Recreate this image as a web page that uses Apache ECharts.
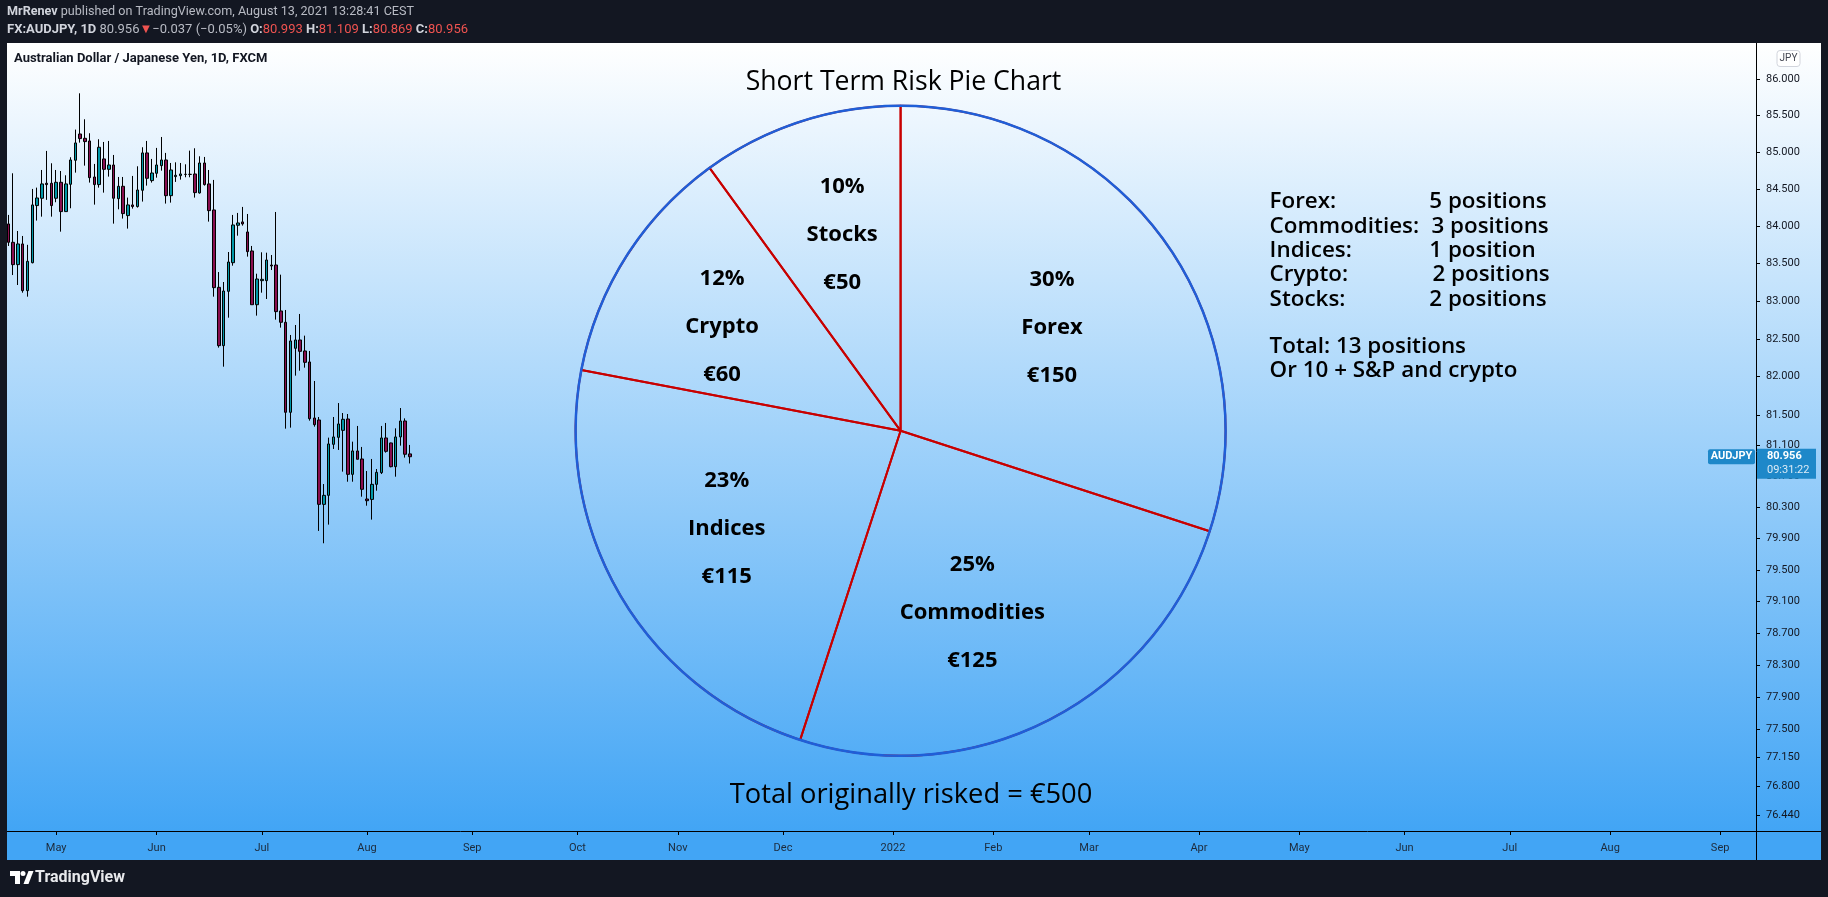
<!DOCTYPE html>
<html><head><meta charset="utf-8">
<script src="https://cdn.jsdelivr.net/npm/echarts@6/dist/echarts.min.js"></script>
<style>
html,body{margin:0;padding:0;background:#131722;overflow:hidden;}
#pane{position:absolute;left:7px;top:43px;width:1814px;height:817px;
  background:linear-gradient(to bottom,#ffffff 0px,#42a5f5 788px,#42a5f5 817px);}
#c{position:absolute;left:0;top:0;width:1828px;height:897px;}
</style>
</head><body><div id="pane"></div><div id="c"></div>
<script>
// ---- data ----
const startDate = [2021, 3, 19];       // first bar: 2021-04-19 (weekday bars)
const categoryCount = 366;            // bars incl. future whitespace up to Sep 2022
const candleOpen = [84.031,83.784,83.485,83.762,83.138,83.511,84.278,84.377,84.580,84.580,
 84.377,84.593,84.197,84.566,84.892,85.250,85.191,85.155,84.665,84.562,
 84.910,84.769,84.828,84.372,84.539,84.143,84.287,84.265,84.485,84.992,
 84.616,84.715,84.819,84.896,84.412,84.670,84.683,84.701,84.700,84.706,
 84.449,84.855,84.571,84.219,83.182,82.409,83.129,83.511,84.013,84.058,
 83.923,83.668,82.951,83.271,83.271,83.480,83.480,82.868,82.718,81.534,
 82.374,82.484,82.339,82.194,81.460,81.434,80.341,80.457,81.117,81.208,
 81.299,81.447,80.728,81.031,80.927,80.410,80.405,80.599,80.750,81.200,
 81.135,80.827,81.213,81.421,80.993];
const candleHigh = [84.152,84.715,83.936,83.869,83.750,84.503,84.521,84.760,85.019,84.851,
 84.760,84.746,84.688,84.933,85.310,85.807,85.451,85.260,84.842,85.178,
 85.141,85.155,84.964,84.665,84.665,84.386,84.679,84.810,85.069,85.155,
 84.910,85.060,85.209,84.992,84.855,84.864,84.855,84.837,85.023,85.055,
 84.946,84.937,84.760,84.625,83.386,83.253,83.654,84.152,84.179,84.260,
 84.165,83.735,83.364,83.650,83.645,83.614,84.192,83.351,82.881,82.550,
 82.682,82.828,82.541,82.339,81.944,81.473,80.603,81.204,81.473,81.655,
 81.525,81.512,81.152,81.356,81.083,80.771,80.927,80.797,81.356,81.395,
 81.139,81.325,81.590,81.455,81.109];
const candleLow = [83.735,83.346,83.213,83.111,83.058,83.502,84.076,84.129,84.355,84.129,
 84.323,83.927,84.197,84.242,84.724,85.132,84.819,84.589,84.291,84.521,
 84.453,84.670,84.035,84.228,84.103,83.968,84.237,84.251,84.332,84.548,
 84.589,84.656,84.751,84.305,84.318,84.598,84.629,84.661,84.661,84.386,
 84.440,84.548,84.062,83.058,82.383,82.132,82.779,83.471,83.873,84.008,
 83.592,82.951,82.806,83.111,83.027,83.413,82.753,82.647,81.321,81.334,
 82.014,82.079,82.119,81.425,81.347,80.000,79.842,80.081,81.057,81.044,
 80.763,80.633,80.633,80.923,80.440,80.324,80.145,80.517,80.732,81.009,
 80.819,80.698,81.100,80.945,80.869];
const candleClose = [83.784,83.485,83.762,83.138,83.529,84.287,84.381,84.571,84.562,84.278,
 84.593,84.197,84.571,84.896,85.128,85.187,85.146,84.656,84.562,85.069,
 84.769,84.828,84.377,84.539,84.170,84.287,84.265,84.489,84.992,84.647,
 84.719,84.828,84.896,84.412,84.760,84.688,84.706,84.700,84.701,84.453,
 84.855,84.562,84.210,83.178,82.409,83.133,83.520,84.017,84.044,84.031,
 83.659,82.951,83.293,83.289,83.547,83.467,82.859,82.718,81.534,82.471,
 82.484,82.334,82.189,81.451,81.373,80.341,80.457,81.122,81.213,81.382,
 81.443,80.728,81.031,80.923,80.535,80.388,80.599,80.754,81.200,81.026,
 80.827,81.213,81.421,80.988,80.956];
const priceTicks = [86.0,85.5,85.0,84.5,84.0,83.5,83.0,82.5,82.0,81.5,81.1,80.7,80.3,79.9,79.5,79.1,78.7,78.3,77.9,77.5,77.15,76.8,76.44];
const priceMin = 76.247, priceMax = 86.501;
const monthNames = ['Jan','Feb','Mar','Apr','May','Jun','Jul','Aug','Sep','Oct','Nov','Dec'];

const pieNames = ['Forex','Commodities','Indices','Crypto','Stocks'];
const pieValues = [150,125,115,60,50];
const positionNames = ['Forex:','Commodities:','Indices:','Crypto:','Stocks:'];
const positionCounts = ['5 positions','3 positions','1 position','2 positions','2 positions'];
const summaryLines = ['Total: 13 positions','Or 10 + S&P and crypto'];

// ---- build ----
const dates = [];
let d = new Date(Date.UTC(startDate[0], startDate[1], startDate[2]));
while (dates.length < categoryCount) {
  const wd = d.getUTCDay();
  if (wd !== 0 && wd !== 6) dates.push(d.toISOString().slice(0,10));
  d = new Date(d.getTime() + 86400000);
}
const isMonthStart = dates.map((v,i)=> i>0 && v.slice(5,7)!==dates[i-1].slice(5,7));
const monthInterval = (idx)=> isMonthStart[idx];
const candleData = candleOpen.map((o,i)=>[Math.log(o),Math.log(candleClose[i]),Math.log(candleLow[i]),Math.log(candleHigh[i])]);
const pieTotal = pieValues.reduce((a,b)=>a+b,0);
const pieData = pieNames.map((n,i)=>({name:n,value:pieValues[i]}));
// label nudges (style only) to follow the hand-placed texts of the original
const labelNudge = [[-6,8],[-10,1],[0,-2.5],[-4,2],[2,-2]];

const FF = "'Open Sans', 'Noto Sans', sans-serif";
const UI = "Roboto, 'Liberation Sans', sans-serif";
const pieCenter = [900.6, 430.8];
const pieR = 325;

const chart = echarts.init(document.getElementById('c'), null, {renderer:'canvas'});

const graphics = [
  {type:'text', left:7, top:5, z:100, style:{
    text:'{b|MrRenev} published on TradingView.com, August 13, 2021 13:28:41 CEST',
    font:"12.6px "+UI, fill:'#b8bbc4',
    rich:{b:{fill:'#d1d4dc', font:"bold 12.6px "+UI}}}},
  {type:'text', left:7, top:23, z:100, style:{
    text:'{b|FX:AUDJPY, 1D} 80.956{r|▼}−0.037 (−0.05%) {b|O:}{r|80.993} {b|H:}{r|81.109} {b|L:}{r|80.869} {b|C:}{r|80.956}',
    font:"13px "+UI, fill:'#b8bbc4',
    rich:{b:{fill:'#d1d4dc', font:"bold 13px "+UI}, r:{fill:'#ef5350', font:"13px "+UI}}}},
  {type:'text', left:14, top:52, z:100, style:{text:'Australian Dollar / Japanese Yen, 1D, FXCM', font:"bold 13px "+UI, fill:'#131722'}},
  // pane separators
  {type:'line', z:50, shape:{x1:7,y1:831.5,x2:1821,y2:831.5}, style:{stroke:'#000',lineWidth:1}},
  {type:'line', z:50, shape:{x1:1756.5,y1:43,x2:1756.5,y2:860}, style:{stroke:'#000',lineWidth:1}},
  // JPY button
  {type:'rect', z:50, shape:{x:1777,y:50.5,width:23,height:16,r:3}, style:{fill:'rgba(255,255,255,0.9)',stroke:'#d1d4dc',lineWidth:1}},
  {type:'text', z:51, x:1788.5, y:58.5, style:{text:'JPY', font:"10px "+UI, fill:'#434651', align:'center', verticalAlign:'middle'}},
  // titles
  {type:'text', z:100, x:903.5, y:82.5, style:{text:'Short Term Risk Pie Chart', font:"26.6px "+FF, fill:'#000', align:'center', verticalAlign:'middle'}},
  {type:'text', z:100, x:911, y:795.5, style:{text:'Total originally risked = €'+pieTotal, font:"27.3px "+FF, fill:'#000', align:'center', verticalAlign:'middle'}},
  // logo
  {type:'polygon', z:100, shape:{points:[[10,871],[20,871],[20,884],[15,884],[15,876],[10,876]]}, style:{fill:'#fff'}},
  {type:'circle', z:100, shape:{cx:23,cy:873.5,r:2.5}, style:{fill:'#fff'}},
  {type:'polygon', z:100, shape:{points:[[23.5,884],[28.5,871],[33.5,871],[28.5,884]]}, style:{fill:'#fff'}},
  {type:'text', z:100, x:35, y:877.5, style:{text:'TradingView', font:"bold 16px "+UI, fill:'#e8e9ec', verticalAlign:'middle'}}
];
positionNames.forEach((n,i)=>{
  graphics.push({type:'text', z:100, x:1269.6, y:202+24.3*i, style:{text:n, font:"600 22.4px "+FF, fill:'#000', verticalAlign:'middle'}});
  graphics.push({type:'text', z:100, x:(i===1?1431.5:(i===3?1432.5:1429.3)), y:202+24.3*i, style:{text:positionCounts[i], font:"600 22.4px "+FF, fill:'#000', verticalAlign:'middle'}});
});
summaryLines.forEach((t,i)=>{
  graphics.push({type:'text', z:100, x:1269.6, y:347+23.6*i, style:{text:t, font:"600 22.4px "+FF, fill:'#000', verticalAlign:'middle'}});
});

const option = {
  animation:false,
  backgroundColor:'transparent',
  grid:{left:6, top:43, width:1750, height:788, containLabel:false},
  xAxis:{type:'category', data:dates, boundaryGap:true,
    axisLine:{show:false},
    axisTick:{show:true, interval:monthInterval, alignWithLabel:true, length:4, lineStyle:{color:'#000'}},
    axisLabel:{interval:monthInterval, margin:12, fontSize:11, fontFamily:UI, color:'#1d2a3a',
      formatter:(v)=>{const m=+v.slice(5,7); return m===1? v.slice(0,4) : monthNames[m-1];}},
    splitLine:{show:false}},
  yAxis:{type:'value', position:'right', min:Math.log(priceMin), max:Math.log(priceMax),
    axisLine:{show:false},
    axisTick:{show:true, customValues:priceTicks.map(Math.log), length:4, lineStyle:{color:'#000'}},
    axisLabel:{show:true, customValues:priceTicks.map(Math.log), margin:10, fontSize:11, fontFamily:UI, color:'#131722',
      formatter:(v)=>Math.exp(v).toFixed(3)},
    splitLine:{show:false}},
  series:[
    {type:'candlestick', data:candleData, barWidth:3, silent:true,
      itemStyle:{color:'#0097a7', color0:'#880e4f', borderColor:'#000', borderColor0:'#000', borderColorDoji:'#000', borderWidth:1}},
    {type:'pie', center:pieCenter, radius:[0,pieR], startAngle:90, clockwise:true, silent:true,
      label:{show:false}, labelLine:{show:false}, emphasis:{disabled:true},
      itemStyle:{color:'rgba(0,0,0,0)', borderColor:'#c80000', borderWidth:2}, data:pieData},
    {type:'pie', center:pieCenter, radius:[0,pieR], silent:true,
      label:{show:false}, labelLine:{show:false}, emphasis:{disabled:true},
      itemStyle:{color:'rgba(0,0,0,0)', borderColor:'#1f5fd8', borderWidth:2.5}, data:[{name:'all',value:pieTotal}]},
    {type:'pie', center:pieCenter, radius:[73,pieR], startAngle:90, clockwise:true, silent:true,
      labelLine:{show:false}, emphasis:{disabled:true}, avoidLabelOverlap:false,
      itemStyle:{color:'rgba(0,0,0,0)', borderWidth:0},
      label:{show:true, position:'inside', formatter:'{d}%\n\n{b}\n\n€{c}', fontFamily:FF, fontWeight:'bold', fontSize:22, lineHeight:24, color:'#000'},
      labelLayout:(p)=>({dx:labelNudge[p.dataIndex][0], dy:labelNudge[p.dataIndex][1]}),
      data:pieData}
  ],
  graphic:graphics
};
chart.setOption(option);

// last price labels on the price scale
const lastClose = candleClose[candleClose.length-1];
const yLast = chart.convertToPixel({yAxisIndex:0}, Math.log(lastClose));
chart.setOption({graphic:graphics.concat([
  {type:'rect', z:120, shape:{x:1708,y:yLast-7.5,width:47,height:15,r:2}, style:{fill:'#1e88c9'}},
  {type:'text', z:121, x:1731.5, y:yLast, style:{text:'AUDJPY', font:"bold 11px "+UI, fill:'#fff', align:'center', verticalAlign:'middle'}},
  {type:'rect', z:120, shape:{x:1757,y:yLast-8,width:59,height:30}, style:{fill:'#1e88c9'}},
  {type:'text', z:121, x:1767, y:yLast, style:{text:lastClose.toFixed(3), font:"bold 11px "+UI, fill:'#fff', verticalAlign:'middle'}},
  {type:'text', z:121, x:1767, y:yLast+14, style:{text:'09:31:22', font:"11px "+UI, fill:'#dbeaf6', verticalAlign:'middle'}}
])});
</script>
</body></html>
